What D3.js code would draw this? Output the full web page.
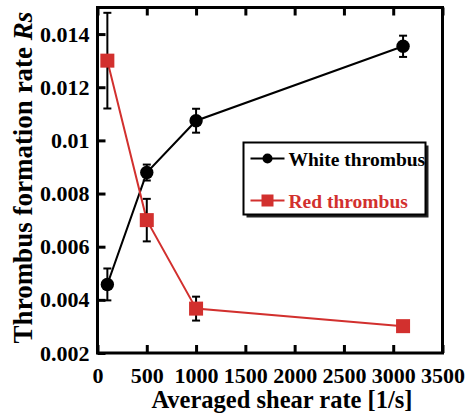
<!DOCTYPE html>
<html>
<head>
<meta charset="utf-8">
<script src="https://cdn.jsdelivr.net/npm/d3@7"></script>
<style>
  body { margin: 0; background: #fff; }
  text { font-family: "Liberation Serif", "Times New Roman", serif; font-weight: bold; }
</style>
</head>
<body>
<div id="chart"></div>
<script>
// shear rate on x, formation rate on y
var shear = [100, 500, 1000, 3100]
var white_rate = [0.00458, 0.00879, 0.01074, 0.01354]
var white_err = [0.0006, 0.0003, 0.00045, 0.0004]
var red_rate = [0.0130, 0.0070, 0.00367, 0.00301]
var red_err = [0.0018, 0.0008, 0.00045, 0.0001]
var x_ticks = [0, 500, 1000, 1500, 2000, 2500, 3000, 3500]
var y_ticks = [0.002, 0.004, 0.006, 0.008, 0.010, 0.012, 0.014]
var series_names = ["White thrombus", "Red thrombus"]

var red = "#d2302e"
var font = "Liberation Serif, Times New Roman, serif"

var dimensions = {
    margin: { top: 7.5, bottom: 62, right: 22.5, left: 97.5 },
    width: 345,
    height: 345.5
}

var svg = d3.select("#chart")
    .append("svg")
    .attr("width", 465)
    .attr("height", 415)
    .append("g")
    .attr("transform", "translate(" + dimensions.margin.left + "," + dimensions.margin.top + ")")

var x = d3.scaleLinear()
    .domain([0, 3500])
    .range([0, dimensions.width])

var y = d3.scaleLinear()
    .domain([0.002, 0.015])
    .range([dimensions.height, 0])

// bottom axis, ticks pointing in
var xAxis = svg.append("g")
    .attr("transform", "translate(0," + dimensions.height + ")")
    .call(d3.axisBottom(x).tickValues(x_ticks).tickSizeInner(-8).tickSizeOuter(0).tickPadding(14)
        .tickFormat(d3.format("d")))
xAxis.select(".domain").remove()
xAxis.attr("font-family", font)
xAxis.selectAll("line").attr("stroke-width", 3)
xAxis.selectAll("text").attr("font-size", 22).attr("fill", "#000")

// top axis, ticks only
var topAxis = svg.append("g")
    .call(d3.axisTop(x).tickValues(x_ticks).tickSizeInner(-8).tickSizeOuter(0).tickFormat(""))
topAxis.select(".domain").remove()
topAxis.selectAll("line").attr("stroke-width", 3)

var yAxis = svg.append("g")
    .call(d3.axisLeft(y).tickValues(y_ticks).tickSizeInner(-8).tickSizeOuter(0).tickPadding(8)
        .tickFormat(function (d) { return String(+d.toFixed(3)) }))
yAxis.select(".domain").remove()
yAxis.attr("font-family", font)
yAxis.selectAll("line").attr("stroke-width", 3)
yAxis.selectAll("text").attr("font-size", 22).attr("fill", "#000")

// frame
svg.append("rect")
    .attr("x", 0).attr("y", 0)
    .attr("width", dimensions.width)
    .attr("height", dimensions.height)
    .attr("fill", "none")
    .attr("stroke", "#000")
    .attr("stroke-width", 3)

var line = d3.line()
    .x(function (d) { return x(d[0]) })
    .y(function (d) { return y(d[1]) })

var white_data = shear.map(function (s, i) { return [s, white_rate[i], white_err[i]] })
var red_data = shear.map(function (s, i) { return [s, red_rate[i], red_err[i]] })

svg.append("path").datum(white_data)
    .attr("d", line).attr("fill", "none").attr("stroke", "#000").attr("stroke-width", 2)
svg.append("path").datum(red_data)
    .attr("d", line).attr("fill", "none").attr("stroke", red).attr("stroke-width", 2)

function errorBars(data) {
    var g = svg.append("g").attr("stroke", "#000").attr("stroke-width", 2)
    g.selectAll(".eb").data(data).enter().append("line")
        .attr("x1", function (d) { return x(d[0]) })
        .attr("x2", function (d) { return x(d[0]) })
        .attr("y1", function (d) { return y(d[1] - d[2]) })
        .attr("y2", function (d) { return y(d[1] + d[2]) })
    g.selectAll(".capt").data(data).enter().append("line")
        .attr("x1", function (d) { return x(d[0]) - 4 })
        .attr("x2", function (d) { return x(d[0]) + 4 })
        .attr("y1", function (d) { return y(d[1] + d[2]) })
        .attr("y2", function (d) { return y(d[1] + d[2]) })
    g.selectAll(".capb").data(data).enter().append("line")
        .attr("x1", function (d) { return x(d[0]) - 4 })
        .attr("x2", function (d) { return x(d[0]) + 4 })
        .attr("y1", function (d) { return y(d[1] - d[2]) })
        .attr("y2", function (d) { return y(d[1] - d[2]) })
}
errorBars(white_data)
errorBars(red_data)

svg.selectAll(".wdot").data(white_data).enter().append("circle")
    .attr("cx", function (d) { return x(d[0]) })
    .attr("cy", function (d) { return y(d[1]) })
    .attr("r", 6.7)
    .attr("fill", "#000")

svg.selectAll(".rsq").data(red_data).enter().append("rect")
    .attr("x", function (d) { return x(d[0]) - 7 })
    .attr("y", function (d) { return y(d[1]) - 7 })
    .attr("width", 14)
    .attr("height", 14)
    .attr("fill", red)

// legend
var legend = svg.append("g").attr("transform", "translate(146,135)")
legend.append("rect")
    .attr("x", 3).attr("y", 3).attr("width", 182).attr("height", 72)
    .attr("fill", "#222")
legend.append("rect")
    .attr("x", 0).attr("y", 0).attr("width", 182).attr("height", 72)
    .attr("fill", "#fff").attr("stroke", "#000").attr("stroke-width", 2)

var colors = ["#000", red]
series_names.forEach(function (name, i) {
    var ly = 16 + i * 42
    legend.append("line")
        .attr("x1", 7).attr("x2", 41).attr("y1", ly).attr("y2", ly)
        .attr("stroke", colors[i]).attr("stroke-width", 2)
    if (i == 0) {
        legend.append("circle").attr("cx", 24).attr("cy", ly).attr("r", 5).attr("fill", colors[i])
    } else {
        legend.append("rect").attr("x", 18).attr("y", ly - 6).attr("width", 12).attr("height", 12).attr("fill", colors[i])
    }
    legend.append("text")
        .attr("x", 45).attr("y", ly + 7)
        .attr("font-size", 19.5)
        .attr("fill", colors[i])
        .text(name)
})

// axis titles
svg.append("text")
    .attr("x", dimensions.width / 2 + 12)
    .attr("y", dimensions.height + 55)
    .attr("text-anchor", "middle")
    .attr("font-size", 24.5)
    .text("Averaged shear rate [1/s]")

var yt = svg.append("text")
    .attr("transform", "translate(-65.5," + (177.5 - dimensions.margin.top) + ") rotate(-90)")
    .attr("text-anchor", "middle")
    .attr("font-size", 27)
yt.append("tspan").text("Thrombus formation rate ")
yt.append("tspan").attr("font-style", "italic").text("Rs")
</script>
</body>
</html>
